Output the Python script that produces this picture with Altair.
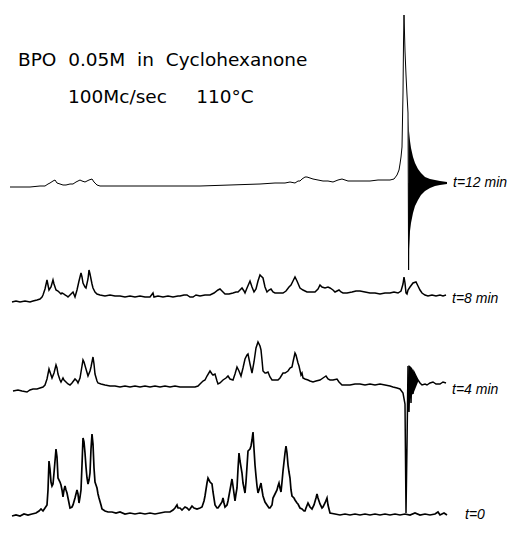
import altair as alt
import pandas as pd

# ---- data: (position, intensity above the trace's own baseline) ----
T12 = [(10,-4),(20,-4),(30,-4),(40,-3),(45,-3),(48,-1),(50,0),(53,2),(55,3),(57,0),(60,-1),(63,-2),
       (66,-2),(70,-1),(73,-1),(76,1),(78,2),(80,3),(82,2),(85,1),(87,2),(89,3),(92,4),(94,1),(97,-2),
       (100,-3),(120,-3),(150,-3),(180,-3),(200,-3),(230,-2),(260,-1),(275,0),(285,0),(290,1),(295,0),
       (298,2),(300,2),(302,4),(305,6),(307,6),(310,5),(313,4),(318,3),(323,2),(328,2),(333,1),(338,3),
       (342,4),(345,3),(348,2),(355,2),(362,2),(370,2),(378,3),(385,3),(390,3),(394,4),(397,8),(399,13),
       (400,19),(401,26),(402,36),(403,90),(403.5,140),(404,168),(404.5,150),(405,132),(406,108),
       (407,88),(408,70),(408.6,-87),(409.2,0),(447,0)]
RING_X  = [408.5, 409, 410, 411, 413, 415, 418, 421, 425, 430, 435, 440, 447]
RING_UP = [65, 52, 42, 35, 26, 20, 14, 10, 6, 4, 3, 2, 1]
RING_LO = [-87, -66, -48, -40, -30, -23, -17, -12, -8, -5, -3, -2, -1]

T8 = [(12,-3),(16,-2),(20,-3),(25,-2),(30,-3),(33,-2),(37,-1),(40,0),(42,2),(43,4),(45,10),(47,19),
      (48,14),(49,9),(51,12),(53,19),(54,15),(56,9),(58,8),(59,7),(61,5),(62,6),(64,5),(65,4),(67,3),
      (68,2),(70,4),(73,7),(75,2),(77,9),(79,18),(81,26),(82,22),(83,16),(85,12),(86,11),(88,20),(89,29),
      (90,25),(92,15),(93,11),(95,7),(97,5),(100,4),(105,3),(110,4),(115,3),(120,3),(125,2),(130,3),
      (135,2),(140,3),(145,2),(150,2),(153,6),(154,2),(158,3),(163,2),(168,3),(173,2),(178,3),(180,3),
      (184,4),(187,4),(190,2),(193,2),(196,4),(200,3),(205,4),(210,4),(214,6),(218,9),(220,10),(222,8),
      (225,5),(229,5),(233,6),(236,7),(238,7),(240,9),(242,11),(244,8),(245,6),(247,11),(250,18),(252,12),
      (254,7),(256,10),(258,18),(260,24),(261,23),(263,21),(265,12),(267,7),(269,9),(271,10),(273,7),
      (275,6),(279,6),(283,6),(286,8),(289,12),(291,14),(293,18),(295,22),(297,18),(300,11),(303,9),
      (307,7),(311,7),(315,7),(318,10),(320,14),(322,12),(325,11),(328,12),(330,11),(333,9),(335,7),
      (337,8),(339,9),(341,7),(343,6),(347,6),(352,7),(356,8),(360,8),(365,7),(370,6),(375,6),(380,5),
      (385,6),(390,6),(394,7),(398,6),(401,8),(403,15),(404,22),(405,16),(406,6),(407,5),(408,9),(410,12),
      (413,16),(416,17),(418,13),(420,9),(422,6),(425,4),(428,3),(432,4),(436,3),(440,4),(443,3),(446,4)]

T4 = [(13,-1),(18,0),(22,-1),(27,-2),(30,0),(33,1),(37,1),(40,2),(43,3),(45,5),(47,11),(49,21),(50,18),
      (52,12),(54,17),(56,25),(57,22),(58,16),(60,10),(61,8),(62,10),(63,12),(64,10),(66,8),(68,6),(70,5),
      (72,7),(75,11),(77,9),(78,7),(80,12),(82,24),(83,30),(84,28),(86,21),(88,14),(90,19),(91,23),
      (93,33),(94,26),(95,16),(97,9),(98,7),(101,6),(105,5),(110,4),(115,4),(120,3),(125,4),(130,3),
      (135,4),(140,3),(145,4),(150,3),(155,4),(160,3),(165,4),(170,3),(175,4),(180,3),(185,3),(190,3),
      (195,3),(198,4),(200,6),(203,9),(205,10),(207,14),(210,19),(212,16),(213,15),(215,16),(217,9),
      (218,6),(220,7),(223,10),(226,12),(228,14),(230,11),(233,10),(235,16),(237,23),(239,19),(241,14),
      (243,22),(245,31),(247,35),(248,36),(250,26),(252,17),(254,28),(256,42),(258,48),(260,44),(261,40),
      (262,30),(263,19),(265,17),(266,17),(268,18),(270,13),(272,10),(275,10),(278,10),(280,12),(283,17),
      (285,17),(288,19),(290,22),(292,23),(293,28),(295,37),(296,35),(298,27),(299,24),(301,15),(302,17),
      (303,12),(305,11),(308,10),(310,9),(313,8),(316,9),(320,10),(323,12),(326,14),(328,11),(330,10),
      (333,10),(337,11),(339,8),(342,5),(346,5),(350,5),(355,6),(360,6),(365,5),(370,6),(375,5),(380,6),
      (385,5),(390,4),(393,3),(397,2),(400,1),(403,-3),(405,-14),(406,-123),(407,-55),(408,24),(409,-22),
      (410,22),(411,-13),(412,20),(413,-4),(414,18),(416,14),(418,10),(420,7),(422,5),(425,6),(427,5),
      (430,7),(433,8),(436,6),(440,6),(443,8),(446,7)]
BLOB_X  = [408.5, 410, 412, 414, 416, 418]
BLOB_UP = [25, 24, 22, 18, 14, 10]
BLOB_LO = [-18, -9, -5, -2, 3, 8]

T0 = [(12,-1),(16,0),(20,-1),(24,1),(28,0),(32,1),(36,2),(39,4),(41,6),(43,4),(45,7),(47,10),(48,25),
      (49,54),(50,46),(51,33),(52,29),(53,31),(54,42),(56,66),(57,58),(58,37),(60,33),(61,30),(62,25),
      (63,18),(64,25),(65,29),(66,25),(67,22),(68,17),(70,7),(72,8),(73,10),(75,17),(77,25),(78,21),
      (79,12),(80,18),(81,25),(82,50),(83,77),(84,73),(85,62),(86,48),(87,37),(88,31),(89,35),(90,42),
      (91,66),(92,81),(93,71),(94,47),(95,33),(96,30),(97,27),(98,21),(99,17),(101,10),(102,6),(105,4),
      (108,3),(112,3),(116,2),(120,3),(125,1),(130,2),(135,1),(140,2),(145,1),(150,2),(155,1),(160,2),
      (165,3),(170,3),(173,5),(175,7),(177,10),(178,7),(180,7),(182,5),(183,6),(185,8),(187,7),(189,5),
      (190,6),(192,9),(194,7),(197,6),(200,7),(202,8),(204,14),(205,19),(207,32),(208,37),(210,33),
      (212,31),(213,23),(215,10),(217,7),(218,7),(220,10),(222,13),(223,17),(224,12),(225,8),(227,10),
      (228,14),(230,25),(232,36),(233,29),(235,14),(236,21),(237,27),(238,46),(239,62),(240,54),(242,42),
      (243,32),(245,22),(246,33),(248,64),(250,66),(251,69),(252,75),(253,83),(254,66),(255,50),(256,39),
      (257,29),(258,22),(259,25),(261,32),(262,25),(263,19),(265,13),(267,10),(269,7),(270,7),(272,10),
      (273,17),(275,21),(277,25),(278,29),(279,32),(280,27),(281,23),(282,33),(283,44),(285,62),(286,69),
      (287,62),(288,50),(289,43),(290,37),(291,25),(292,19),(294,17),(295,15),(297,12),(298,11),(300,7),
      (302,6),(304,4),(305,4),(306,7),(308,12),(310,8),(312,6),(314,10),(316,17),(317,21),(318,17),
      (320,11),(322,7),(323,8),(325,12),(327,17),(328,10),(330,2),(335,1),(340,0),(345,1),(350,0),
      (355,1),(360,0),(365,1),(370,0),(375,1),(380,0),(385,1),(390,0),(395,1),(400,0),(405,1),(410,0),
      (415,2),(420,0),(425,1),(430,0),(435,1),(438,3),(440,0),(444,2),(447,0)]

LABELS = ["t=12 min", "t=8 min", "t=4 min", "t=0"]
TITLE1 = "BPO\u00a0\u00a00.05M\u00a0\u00a0in\u00a0\u00a0Cyclohexanone"
TITLE2 = "100Mc/sec\u00a0\u00a0\u00a0\u00a0\u00a0110°C"

# ---- layout: baseline height of each trace (543 - page row), label positions, pen widths ----
OFFSETS = {"t=12 min": 360, "t=8 min": 244, "t=4 min": 153, "t=0": 28}
LABEL_X = {"t=12 min": 453, "t=8 min": 452, "t=4 min": 452, "t=0": 465}
WIDTHS = {"t=12 min": 1.0, "t=8 min": 1.5, "t=4 min": 1.5, "t=0": 1.7}
SERIES = {"t=12 min": T12, "t=8 min": T8, "t=4 min": T4, "t=0": T0}

xs = alt.Scale(domain=[8, 507], nice=False, zero=False)
ys = alt.Scale(domain=[8, 535], nice=False, zero=False)

layers = []
for name, pts in SERIES.items():
    df = pd.DataFrame({"x": [p[0] for p in pts],
                       "y": [OFFSETS[name] + p[1] for p in pts],
                       "i": list(range(len(pts)))})
    layers.append(alt.Chart(df).mark_line(color="black", strokeWidth=WIDTHS[name], interpolate="linear")
                  .encode(x=alt.X("x:Q", scale=xs, axis=None),
                          y=alt.Y("y:Q", scale=ys, axis=None),
                          order="i:Q"))

ring = pd.DataFrame({"x": RING_X,
                     "hi": [OFFSETS["t=12 min"] + v for v in RING_UP],
                     "lo": [OFFSETS["t=12 min"] + v for v in RING_LO]})
blob = pd.DataFrame({"x": BLOB_X,
                     "hi": [OFFSETS["t=4 min"] + v for v in BLOB_UP],
                     "lo": [OFFSETS["t=4 min"] + v for v in BLOB_LO]})
for df in (ring, blob):
    layers.append(alt.Chart(df).mark_area(color="black", opacity=1)
                  .encode(x=alt.X("x:Q", scale=xs, axis=None),
                          y=alt.Y("hi:Q", scale=ys, axis=None),
                          y2="lo:Q"))

lab = pd.DataFrame({"x": [LABEL_X[n] for n in LABELS],
                    "y": [OFFSETS[n] for n in LABELS],
                    "t": LABELS})
layers.append(alt.Chart(lab).mark_text(align="left", baseline="middle", fontStyle="italic",
                                       font="Liberation Sans", fontSize=14, color="black")
              .encode(x=alt.X("x:Q", scale=xs, axis=None),
                      y=alt.Y("y:Q", scale=ys, axis=None),
                      text="t:N"))

ttl = pd.DataFrame({"x": [18, 68], "y": [543 - 60, 543 - 97], "t": [TITLE1, TITLE2]})
layers.append(alt.Chart(ttl).mark_text(align="left", baseline="middle", font="DejaVu Sans",
                                       fontSize=18.5, color="black")
              .encode(x=alt.X("x:Q", scale=xs, axis=None),
                      y=alt.Y("y:Q", scale=ys, axis=None),
                      text="t:N"))

chart = (alt.layer(*layers)
         .properties(width=499, height=527, padding=0, autosize="none", background="white")
         .configure_view(stroke=None))

chart.save("out.html", embed_options={"renderer": "svg", "actions": False})
